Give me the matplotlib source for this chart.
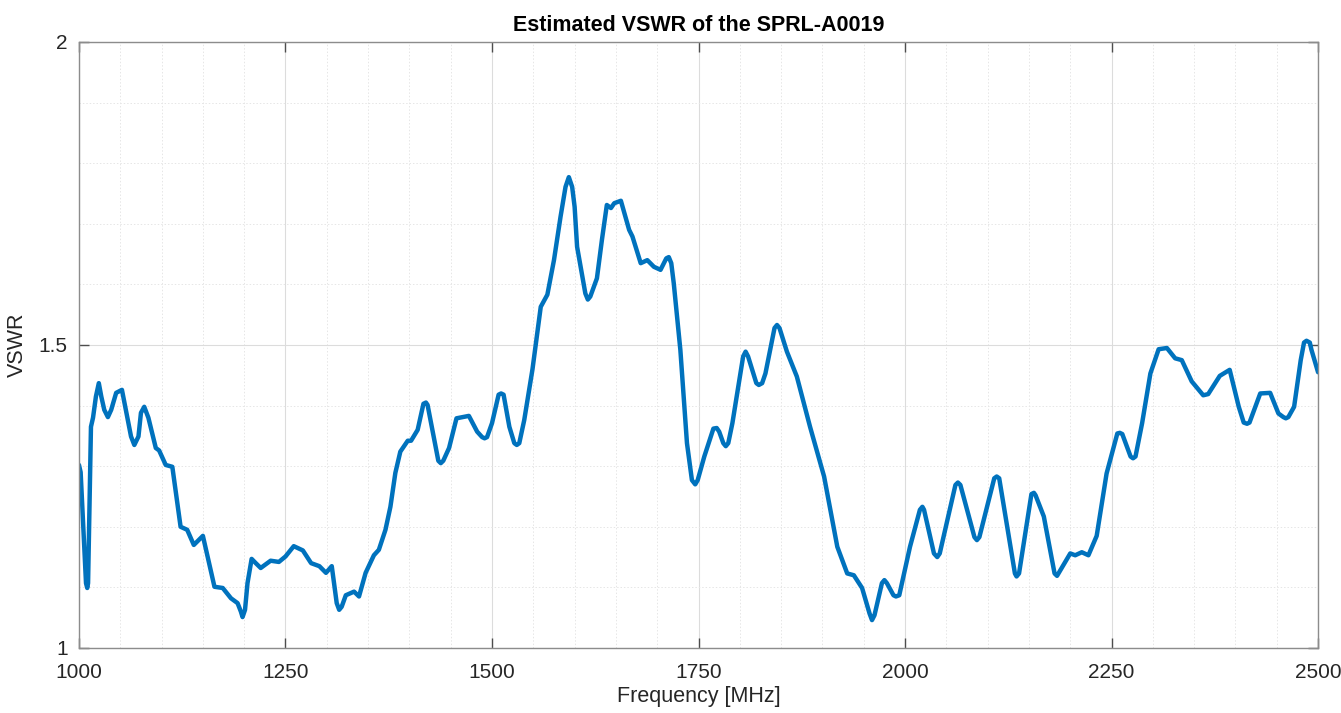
import numpy as np
import matplotlib
matplotlib.use("Agg")
import matplotlib.pyplot as plt
from matplotlib.ticker import MultipleLocator

plt.rcParams['font.family'] = ['Liberation Sans', 'DejaVu Sans']

# frequency [MHz] and estimated VSWR
freq = [1000, 1002, 1008.5, 1010, 1011, 1014.5, 1017, 1020.5,
        1024, 1027, 1030.6, 1035, 1039, 1045, 1052, 1063,
        1067, 1072, 1075, 1079, 1084, 1093, 1097, 1105,
        1113, 1123, 1131, 1139, 1150, 1164, 1174, 1184,
        1192, 1196, 1198, 1201, 1204, 1209, 1214, 1220,
        1232, 1242, 1250, 1260, 1271, 1281, 1291, 1299,
        1306, 1312, 1315, 1318, 1323, 1333, 1339, 1347,
        1357, 1363, 1371, 1377, 1383, 1389, 1398, 1402,
        1410, 1417, 1420, 1422, 1435, 1438, 1441, 1448,
        1457, 1472, 1482, 1488, 1491, 1494, 1500, 1508,
        1511, 1514, 1521, 1527, 1530, 1533, 1539, 1549,
        1559, 1567, 1575, 1583, 1589, 1593, 1597, 1600,
        1603, 1613, 1616, 1619, 1627, 1633, 1639, 1644,
        1648, 1656, 1666, 1670, 1680, 1688, 1696, 1704,
        1711, 1714, 1717, 1720, 1728, 1736, 1742, 1746,
        1749, 1757, 1768, 1772, 1775, 1780, 1783, 1786,
        1791, 1804, 1807, 1810, 1820, 1823, 1827, 1831,
        1842, 1845, 1848, 1857, 1869, 1885, 1902, 1918,
        1930, 1938, 1948, 1957, 1960, 1963, 1972, 1975,
        1978, 1986, 1989, 1993, 2006, 2018, 2021, 2023,
        2035, 2039, 2042, 2061, 2064, 2067, 2084, 2087,
        2090, 2108, 2111, 2114, 2133, 2135, 2138, 2153,
        2156, 2158, 2168, 2181, 2184, 2187, 2200, 2206,
        2214, 2222, 2232, 2244, 2257, 2260, 2263, 2273,
        2276, 2279, 2287, 2297, 2307, 2317, 2327, 2335,
        2347, 2361, 2367, 2381, 2393, 2404, 2410, 2414,
        2417, 2430, 2442, 2452, 2458, 2461, 2464, 2471,
        2479, 2483, 2486, 2490, 2492, 2500]
vswr = [1.302, 1.290, 1.107, 1.099, 1.107, 1.365, 1.380, 1.415,
        1.437, 1.415, 1.393, 1.381, 1.393, 1.421, 1.426, 1.349,
        1.335, 1.349, 1.388, 1.398, 1.380, 1.330, 1.326, 1.302,
        1.299, 1.200, 1.195, 1.170, 1.185, 1.101, 1.099, 1.082,
        1.074, 1.060, 1.051, 1.063, 1.107, 1.147, 1.140, 1.132,
        1.144, 1.142, 1.151, 1.168, 1.161, 1.140, 1.135, 1.124,
        1.135, 1.074, 1.063, 1.068, 1.087, 1.093, 1.085, 1.124,
        1.153, 1.162, 1.195, 1.233, 1.289, 1.324, 1.342, 1.342,
        1.360, 1.403, 1.405, 1.401, 1.309, 1.305, 1.309, 1.330,
        1.379, 1.383, 1.357, 1.348, 1.346, 1.348, 1.371, 1.418,
        1.420, 1.418, 1.365, 1.338, 1.335, 1.338, 1.376, 1.460,
        1.563, 1.583, 1.640, 1.712, 1.761, 1.777, 1.761, 1.728,
        1.662, 1.585, 1.575, 1.580, 1.610, 1.673, 1.731, 1.726,
        1.734, 1.738, 1.690, 1.679, 1.635, 1.640, 1.629, 1.624,
        1.643, 1.645, 1.635, 1.602, 1.492, 1.338, 1.277, 1.270,
        1.277, 1.316, 1.362, 1.363, 1.357, 1.338, 1.333, 1.338,
        1.371, 1.481, 1.489, 1.481, 1.437, 1.434, 1.437, 1.453,
        1.528, 1.533, 1.528, 1.489, 1.448, 1.365, 1.283, 1.167,
        1.123, 1.120, 1.099, 1.057, 1.046, 1.054, 1.107, 1.112,
        1.107, 1.087, 1.085, 1.087, 1.167, 1.228, 1.233, 1.228,
        1.156, 1.150, 1.156, 1.269, 1.273, 1.269, 1.183, 1.178,
        1.183, 1.280, 1.283, 1.280, 1.123, 1.118, 1.123, 1.254,
        1.256, 1.252, 1.217, 1.123, 1.119, 1.126, 1.156, 1.153,
        1.158, 1.153, 1.185, 1.288, 1.354, 1.355, 1.353, 1.316,
        1.313, 1.316, 1.371, 1.453, 1.493, 1.495, 1.478, 1.475,
        1.440, 1.417, 1.419, 1.449, 1.459, 1.398, 1.372, 1.370,
        1.372, 1.420, 1.421, 1.387, 1.381, 1.379, 1.381, 1.398,
        1.475, 1.504, 1.507, 1.504, 1.492, 1.455]
xticks = [1000, 1250, 1500, 1750, 2000, 2250, 2500]
yticks = [1, 1.5, 2]
yticklabels = ['1', '1.5', '2']

fig = plt.figure(figsize=(13.41, 7.13), dpi=100)
ax = fig.add_axes([0.0589, 0.0912, 0.9240, 0.8499])

ax.plot(freq, vswr, color='#0072BD', linewidth=3.2,
        solid_joinstyle='round', solid_capstyle='round')

ax.set_xlim(1000, 2500)
ax.set_ylim(1, 2)
ax.set_xticks(xticks)
ax.set_yticks(yticks)
ax.set_yticklabels(yticklabels)
ax.xaxis.set_minor_locator(MultipleLocator(50))
ax.yaxis.set_minor_locator(MultipleLocator(0.1))

ax.grid(True, which='major', color='#dcdcdc', linewidth=0.8)
ax.grid(True, which='minor', color='#e6e6e6', linewidth=0.7, linestyle=(0, (1.5, 2)))
ax.set_axisbelow(True)

for s in ax.spines.values():
    s.set_color('#8c8c8c')
    s.set_linewidth(1.0)
ax.tick_params(which='major', direction='in', length=7, width=1, color='#4d4d4d',
               labelsize=15, labelcolor='#262626', top=True, right=True)
ax.tick_params(axis='x', which='major', pad=11)
ax.tick_params(axis='y', which='major', pad=8)
ax.tick_params(which='minor', length=0)

ax.set_xlabel('Frequency [MHz]', fontsize=15.5, color='#262626', labelpad=3)
ax.set_ylabel('VSWR', fontsize=15.5, color='#262626', labelpad=8)
ax.set_title('Estimated VSWR of the SPRL-A0019', fontsize=15.5, fontweight='bold', pad=8)

fig.savefig('out.png', dpi=100)
